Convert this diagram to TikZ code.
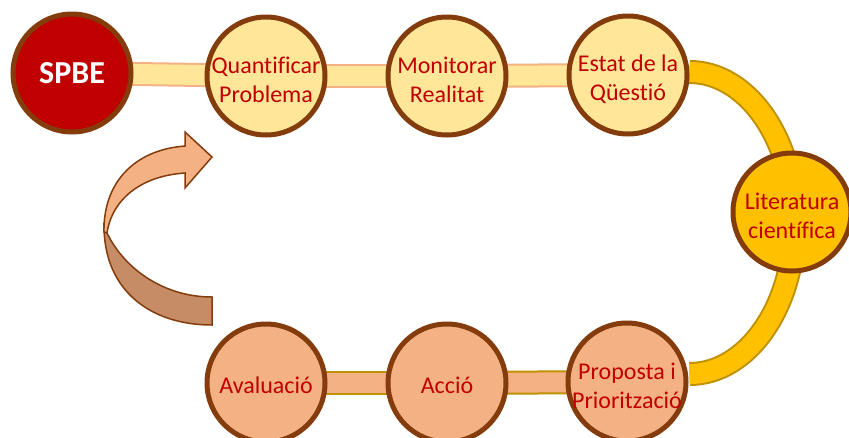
\documentclass[tikz,border=0pt]{standalone}
\usepackage{fontspec}
\setmainfont{Carlito}[Ligatures={NoCommon}]
\usetikzlibrary{backgrounds}
\definecolor{brownb}{HTML}{843C0C}
\definecolor{redd}{HTML}{C00000}
\definecolor{lyel}{HTML}{FFE699}
\definecolor{gold}{HTML}{FFC000}
\definecolor{dgold}{HTML}{BF9000}
\definecolor{salm}{HTML}{F4B183}
\definecolor{dsalm}{HTML}{C58C65}
\tikzset{
  circ/.style={circle, draw=brownb, line width=5pt, minimum size=118pt, inner sep=0pt},
  txt/.style={align=center, text=redd, font=\fontsize{24}{29}\selectfont, inner sep=0pt},
  topc/.style={circ, fill=lyel},
  botc/.style={circ, fill=salm},
  topband/.style={draw=salm, line width=2pt, double=lyel, double distance=20pt},
  botband/.style={draw=dgold, line width=2pt, double=salm, double distance=20pt},
  arcband/.style={draw=dgold, line width=2pt, double=gold, double distance=20pt},
  cuarrow/.style={draw=brownb, line width=1.5pt, line join=miter},
}
\begin{document}
\begin{tikzpicture}[x=1pt,y=-1pt]
\useasboundingbox (0,0) rectangle (849,437);
% nodes
\node[circ, fill=redd, text=white, font=\fontsize{32}{34}\selectfont\bfseries] (spbe) at (72,73) {SPBE};
\node[topc, label={[txt, yshift=-4pt]center:Quantificar\\Problema}] (quant) at (266,76) {};
\node[topc, label={[txt, yshift=-4pt]center:Monitorar\\Realitat}] (monit) at (447,76) {};
\node[topc, label={[txt, yshift=-4pt]center:Estat de la\\Qüestió}] (estat) at (628,75) {};
\node[circ, fill=gold, label={[txt, yshift=-4pt]center:Literatura\\científica}] (lit) at (792,212) {};
\node[botc, label={[txt, yshift=-4pt]center:Proposta i\\Priorització}] (prop) at (627,382) {};
\node[botc, label={[txt, yshift=-2pt]center:Acció}] (accio) at (447,383) {};
\node[botc, label={[txt, yshift=-2pt]center:Avaluació}] (aval) at (266,383) {};
% connectors (behind nodes)
\begin{scope}[on background layer]
  \draw[topband] (spbe.center) -- (quant.center);
  \draw[topband] (quant.center) -- (monit.center);
  \draw[topband] (monit.center) -- (estat.center);
  \draw[arcband] ([yshift=3pt]estat.east) arc[start angle=-90, end angle=90, x radius=105, y radius=151];
  \draw[botband] (aval.center) -- (accio.center);
  \draw[botband] (accio.center) -- (prop.center);
\end{scope}
% curved arrow
\draw[cuarrow, fill=dsalm] (104,226) .. controls (104,290) and (150,325) .. (212,325)
   -- (212,297) .. controls (165,297) and (125,270) .. (107,233) -- cycle;
\draw[cuarrow, fill=salm] (104,232) .. controls (103,185) and (132,150) .. (185,146)
   -- (185,132) -- (212,157) -- (185,188) -- (185,173)
   .. controls (140,176) and (112,200) .. (107,233) -- cycle;
\end{tikzpicture}
\end{document}
